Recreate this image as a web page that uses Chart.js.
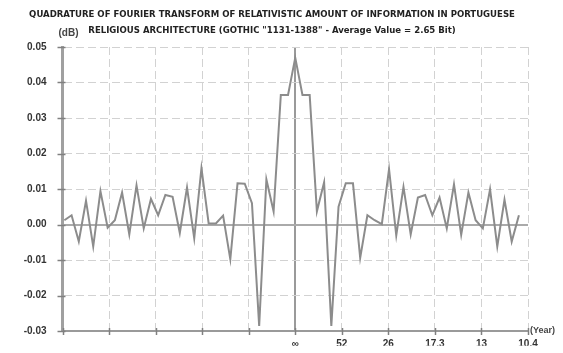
<!DOCTYPE html>
<html>
<head>
<meta charset="utf-8">
<script src="https://cdn.jsdelivr.net/npm/chart.js@4/dist/chart.umd.min.js"></script>
<style>
  html, body { margin: 0; padding: 0; background: #ffffff; }
  #wrap { width: 563px; height: 353px; }
</style>
</head>
<body>
<div id="wrap"><canvas id="chart" width="563" height="353"></canvas></div>
<script>
// Title and axis captions
const titleLines = [
  'QUADRATURE OF FOURIER TRANSFORM OF RELATIVISTIC AMOUNT OF INFORMATION IN PORTUGUESE',
  'RELIGIOUS ARCHITECTURE (GOTHIC "1131-1388" - Average Value = 2.65 Bit)'
];
const yUnitLabel = '(dB)';
const xUnitLabel = '(Year)';

// Period labels for the harmonics 0..5 of the 52-year base cycle
const periodLabels = ['\u221E', '52', '26', '17.3', '13', '10.4'];

// Spectrum samples: index -32 .. 31 around the zero frequency
const firstSample = -32;
const sampleStep = 0.155; // harmonic units between samples
const quadrature = [
   0.0012,  0.0026, -0.0048,  0.0067, -0.0062,  0.0094, -0.0009,  0.0012,
   0.0090, -0.0028,  0.0110, -0.0011,  0.0072,  0.0026,  0.0083,  0.0078,
  -0.0024,  0.0104, -0.0039,  0.0159,  0.0003,  0.0003,  0.0025, -0.0098,
   0.0116,  0.0115,  0.0060, -0.0286,  0.0127,  0.0037,  0.0365,  0.0365,
   0.0470,
   0.0365,  0.0365,  0.0037,  0.0119, -0.0286,  0.0050,  0.0116,  0.0116,
  -0.0094,  0.0026,  0.0012,  0.0001,  0.0156, -0.0031,  0.0106, -0.0028,
   0.0076,  0.0083,  0.0026,  0.0076, -0.0011,  0.0113, -0.0029,  0.0090,
   0.0012, -0.0011,  0.0099, -0.0062,  0.0070, -0.0048,  0.0026
];

const points = quadrature.map((v, i) => ({ x: (firstSample + i) * sampleStep, y: v }));

const LABEL_FONT = '"Liberation Sans", Arial, sans-serif';
const NARROW_FONT = '"DejaVu Sans Condensed", "Liberation Sans Narrow", sans-serif';
const GRID = '#d2d2d2';
const AXIS = '#a0a0a0';
const TEXT = '#333333';

// Crossing tick marks and unit captions
const decorations = {
  id: 'decorations',
  beforeDatasetsDraw(chart) {
    const { ctx, chartArea, scales } = chart;
    const xs = scales.x, ys = scales.y;
    ctx.save();
    ctx.strokeStyle = '#808080';
    ctx.lineWidth = 1.5;
    ys.ticks.forEach(t => {
      const py = Math.round(ys.getPixelForValue(t.value)) + 0.5;
      ctx.beginPath();
      ctx.moveTo(chartArea.left - 5, py);
      ctx.lineTo(chartArea.left + 3, py);
      ctx.stroke();
    });
    xs.ticks.forEach(t => {
      const px = Math.round(xs.getPixelForValue(t.value)) + 0.5;
      ctx.beginPath();
      ctx.moveTo(px, chartArea.bottom - 3);
      ctx.lineTo(px, chartArea.bottom + 4);
      ctx.stroke();
    });
    ctx.restore();
  },
  afterDraw(chart) {
    const { ctx, chartArea } = chart;
    ctx.save();
    ctx.fillStyle = '#444444';
    ctx.font = 'bold 10px ' + LABEL_FONT;
    ctx.textBaseline = 'middle';
    ctx.textAlign = 'center';
    ctx.fillText(yUnitLabel, chartArea.left + 6, 33);
    ctx.textAlign = 'left';
    ctx.font = 'bold 9px ' + LABEL_FONT;
    ctx.fillText(xUnitLabel, chartArea.right + 2, chartArea.bottom);
    ctx.restore();
  }
};

new Chart(document.getElementById('chart'), {
  type: 'line',
  data: {
    datasets: [{
      data: points,
      borderColor: '#8c8c8c',
      borderWidth: 2,
      pointRadius: 0,
      tension: 0,
      fill: false
    }]
  },
  options: {
    responsive: false,
    animation: false,
    devicePixelRatio: 1,
    layout: { padding: { left: 16, right: 35, top: 0, bottom: 0 } },
    plugins: {
      legend: { display: false },
      tooltip: { enabled: false },
      title: {
        display: true,
        text: titleLines,
        color: '#222222',
        font: { family: NARROW_FONT, size: 9.5, weight: 'bold', lineHeight: 1.7 },
        padding: { top: 6, bottom: 8.7 }
      }
    },
    scales: {
      x: {
        type: 'linear',
        min: -5,
        max: 5,
        ticks: {
          stepSize: 1,
          autoSkip: false,
          maxRotation: 0,
          padding: 7,
          color: TEXT,
          font: { family: LABEL_FONT, size: 10, weight: 'bold' },
          callback: v => (v >= 0 ? periodLabels[Math.round(v)] : '')
        },
        grid: {
          drawTicks: false,
          color: ctx => (ctx.tick && ctx.tick.value === 0 ? '#9a9a9a' : GRID),
          lineWidth: ctx => (ctx.tick && ctx.tick.value === 0 ? 2 : 1)
        },
        border: {
          display: true,
          color: '#9a9a9a',
          width: 2,
          dash: ctx => (ctx.tick && ctx.tick.value !== 0 && ctx.tick.value !== -5 ? [8, 4] : [])
        },
        afterFit: s => { s.height = 14.7; }
      },
      y: {
        min: -0.03,
        max: 0.05,
        ticks: {
          stepSize: 0.01,
          padding: 16,
          color: TEXT,
          font: { family: LABEL_FONT, size: 10, weight: 'bold' },
          callback: v => (Math.abs(v) < 1e-9 ? '0.00' : v.toFixed(2))
        },
        grid: {
          drawTicks: false,
          color: ctx => (ctx.tick && Math.abs(ctx.tick.value) < 1e-9 ? '#aaaaaa' : GRID),
          lineWidth: ctx => (ctx.tick && Math.abs(ctx.tick.value) < 1e-9 ? 2 : 1)
        },
        border: {
          display: true,
          color: AXIS,
          width: 3,
          dash: ctx => {
            if (!ctx.tick) return [];
            const v = ctx.tick.value;
            return (Math.abs(v) < 1e-9 || v < -0.0299) ? [] : [8, 4];
          }
        },
        afterFit: s => { s.width = 46.5; }
      }
    }
  },
  plugins: [decorations]
});
</script>
</body>
</html>
